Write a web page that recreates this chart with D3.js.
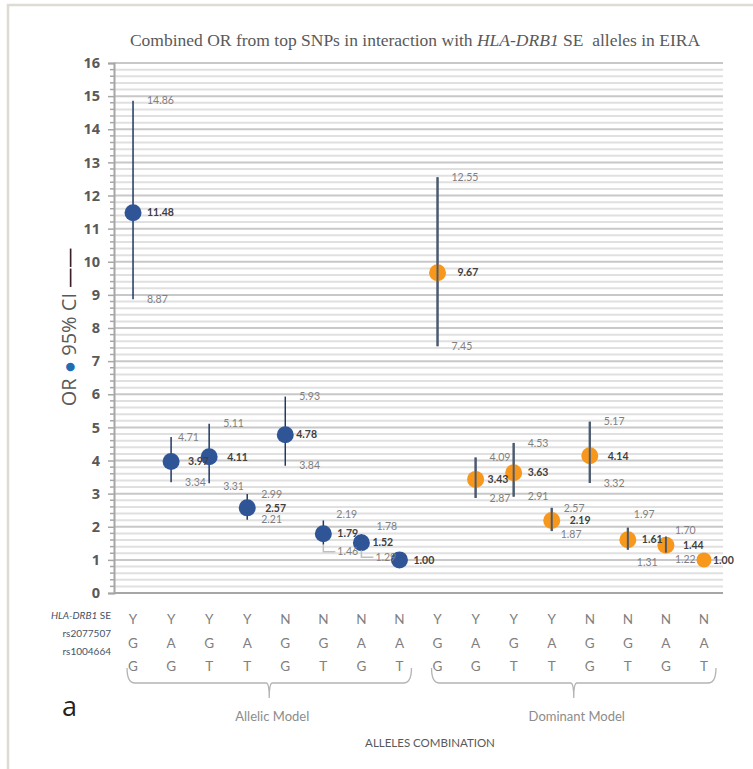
<!DOCTYPE html>
<html>
<head>
<meta charset="utf-8">
<script src="https://cdn.jsdelivr.net/npm/d3@7"></script>
<style>
  body { margin: 0; background: #fff; }
  svg text { font-family: Lato, "Open Sans", sans-serif; }
</style>
</head>
<body>
<div id="chart"></div>
<script>
// allele combination rows (one entry per category)
const seAllele = ['Y','Y','Y','Y','N','N','N','N','Y','Y','Y','Y','N','N','N','N']
const rs2077507 = ['G','A','G','A','G','G','A','A','G','A','G','A','G','G','A','A']
const rs1004664 = ['G','G','T','T','G','T','G','T','G','G','T','T','G','T','G','T']

const allelicOR = [11.48, 3.97, 4.11, 2.57, 4.78, 1.79, 1.52, 1.00]
const allelicLow = [8.87, 3.34, 3.31, 2.21, 3.84, 1.46, 1.29, null]
const allelicHigh = [14.86, 4.71, 5.11, 2.99, 5.93, 2.19, 1.78, null]

const dominantOR = [9.67, 3.43, 3.63, 2.19, 4.14, 1.61, 1.44, 1.00]
const dominantLow = [7.45, 2.87, 2.91, 1.87, 3.32, 1.31, 1.22, null]
const dominantHigh = [12.55, 4.09, 4.53, 2.57, 5.17, 1.97, 1.70, null]

const models = ['Allelic Model', 'Dominant Model']
const yTicks = d3.range(0, 17)

const width = 753
const height = 769
const colors = { 'Allelic Model': '#2f5597', 'Dominant Model': '#f7981d' }
const barColors = { 'Allelic Model': '#1f3864', 'Dominant Model': '#4a5a70' }

// label placement tweaks (layout only): [index, which, dx, dy]
const labelShift = [
  [1, 'hi', -7, 0], [1, 'or', 3, 0],
  [2, 'or', 4, 0], [2, 'lo', 0, 3],
  [3, 'or', 4, 0],
  [4, 'or', -3, 0],
  [5, 'hi', -1, -6], [5, 'lo', 0, 7],
  [6, 'hi', 1, -8], [6, 'or', -3, 0], [6, 'lo', 0, 7],
  [8, 'or', 6, 0],
  [9, 'or', -2, 0],
  [11, 'hi', -2, 0], [11, 'or', 4, 0], [11, 'lo', -5, 3],
  [12, 'or', 4, 0],
  [13, 'hi', -8, -13], [13, 'lo', -5, 13],
  [14, 'hi', -5, -6], [14, 'or', 3, 0], [14, 'lo', -5, 7],
  [15, 'or', -5, 0]
]
const leaders = [5, 6]

const points = []
models.forEach((m, k) => {
  const or = k ? dominantOR : allelicOR
  const lo = k ? dominantLow : allelicLow
  const hi = k ? dominantHigh : allelicHigh
  or.forEach((v, j) => points.push({ i: k * 8 + j, model: m, or: v, lo: lo[j], hi: hi[j] }))
})

const svg = d3.select('#chart').append('svg').attr('width', width).attr('height', height)

// frame
svg.append('path').attr('d', `M8,${height} V5 H${width}`)
  .attr('fill', 'none').attr('stroke', '#dedbd3').attr('stroke-width', 2.5)

const x = d3.scaleBand().domain(d3.range(16)).range([114, 723])
const y = d3.scaleLinear().domain([0, 16]).range([593, 63])
const cx = i => x(i) + x.bandwidth() / 2

// grid
const minor = d3.range(0, 80).map(d => d / 5).filter(d => d % 1 !== 0)
svg.append('g').selectAll('line').data(minor).join('line')
  .attr('x1', 114).attr('x2', 723).attr('y1', d => y(d)).attr('y2', d => y(d))
  .attr('stroke', '#e0e0e0').attr('stroke-width', 2)
svg.append('g').selectAll('line').data(yTicks.slice(1)).join('line')
  .attr('x1', 114).attr('x2', 723).attr('y1', d => y(d)).attr('y2', d => y(d))
  .attr('stroke', '#c8c8c8').attr('stroke-width', 2)
svg.append('line').attr('x1', 114).attr('x2', 723).attr('y1', y(0)).attr('y2', y(0))
  .attr('stroke', '#a6a6a6').attr('stroke-width', 2)

// y axis
const yAxis = svg.append('g').attr('transform', 'translate(114,0)')
  .call(d3.axisLeft(y).tickValues(yTicks).tickSize(6).tickPadding(8).tickFormat(d3.format('d')))
yAxis.select('.domain').attr('stroke', '#a6a6a6').attr('stroke-width', 2)
yAxis.selectAll('.tick line').attr('stroke', '#a6a6a6').attr('stroke-width', 1.5)
yAxis.selectAll('text').attr('fill', '#595959').attr('font-size', 14.5)
  .style('font-weight', 700).style('font-family', '"Open Sans", sans-serif')
svg.append('g').selectAll('line').data(minor).join('line')
  .attr('x1', 110).attr('x2', 114).attr('y1', d => y(d)).attr('y2', d => y(d))
  .attr('stroke', '#a6a6a6').attr('stroke-width', 1.5)

// title
const title = svg.append('text').attr('x', 415).attr('y', 46).attr('text-anchor', 'middle')
  .attr('fill', '#595959').attr('font-size', 17.5).style('font-family', '"Liberation Serif", serif')
  .style('white-space', 'pre')
title.append('tspan').text('Combined OR from top SNPs in interaction with ')
title.append('tspan').attr('font-style', 'italic').text('HLA-DRB1')
title.append('tspan').text(' SE  alleles in EIRA')

// y title
const yt = svg.append('text').attr('transform', 'translate(76,327) rotate(-90)')
  .attr('text-anchor', 'middle').attr('fill', '#595959').attr('font-size', 20)
  .style('font-family', '"Open Sans", sans-serif')
yt.append('tspan').text('OR ')
yt.append('tspan').attr('fill', '#1f6eb5').text('●')
yt.append('tspan').text(' 95% CI ')
yt.append('tspan').attr('fill', '#111').text('——')

// error bars
const ci = points.filter(d => d.lo != null)
svg.append('g').selectAll('line').data(ci).join('line')
  .attr('x1', d => cx(d.i)).attr('x2', d => cx(d.i))
  .attr('y1', d => y(d.lo)).attr('y2', d => y(d.hi))
  .attr('stroke', d => barColors[d.model]).attr('stroke-width', d => d.model === models[0] ? 1.5 : 2)

// points
svg.append('g').selectAll('circle').data(points).join('circle')
  .attr('cx', d => cx(d.i)).attr('cy', d => y(d.or))
  .attr('r', d => d.i === 15 ? 7.5 : 8.5)
  .attr('fill', d => colors[d.model])

// error bars drawn over orange points
svg.append('g').selectAll('line').data(ci.filter(d => d.model === models[1])).join('line')
  .attr('x1', d => cx(d.i)).attr('x2', d => cx(d.i))
  .attr('y1', d => y(d.lo)).attr('y2', d => y(d.hi))
  .attr('stroke', '#4a5a70').attr('stroke-width', 2)

// labels
const shift = (i, w) => {
  const s = labelShift.find(o => o[0] === i && o[1] === w)
  return s ? [s[2], s[3]] : [0, 0]
}
const labels = []
points.forEach(d => {
  labels.push({ i: d.i, w: 'or', v: d.or })
  if (d.lo != null) {
    labels.push({ i: d.i, w: 'hi', v: d.hi })
    labels.push({ i: d.i, w: 'lo', v: d.lo })
  }
})
labels.forEach(l => {
  const [dx, dy] = shift(l.i, l.w)
  l.x = cx(l.i) + 14 + dx
  l.y = y(l.v) + dy
})
svg.append('g').selectAll('text').data(labels).join('text')
  .attr('x', d => d.x).attr('y', d => d.y).attr('dy', '0.35em')
  .attr('font-size', d => d.w === 'or' ? 10.5 : 10.5)
  .attr('font-weight', d => d.w === 'or' ? 700 : 400)
  .attr('fill', d => d.w === 'or' ? '#404040' : '#7f7f7f')
  .text(d => d3.format('.2f')(d.v))

// leader lines for displaced lower labels
svg.append('g').selectAll('path').data(labels.filter(l => l.w === 'lo' && leaders.includes(l.i))).join('path')
  .attr('d', d => `M${cx(d.i)},${y(d.v)} V${d.y} H${d.x - 2}`)
  .attr('fill', 'none').attr('stroke', '#bfbfbf').attr('stroke-width', 1.5)

// allele rows
const rows = [
  { name: 'rs', label: 'SE', vals: seAllele, ly: 615, vy: 619 },
  { name: 'rs2077507', vals: rs2077507, ly: 633, vy: 643 },
  { name: 'rs1004664', vals: rs1004664, ly: 651, vy: 666 }
]
rows.forEach((r, k) => {
  const t = svg.append('text').attr('x', 111).attr('y', r.ly).attr('dy', '0.35em')
    .attr('text-anchor', 'end').attr('font-size', 10).attr('fill', '#44546a')
  if (k === 0) {
    t.append('tspan').attr('font-style', 'italic').text('HLA-DRB1')
    t.append('tspan').text(' SE')
  } else t.text(r.name)
  svg.append('g').selectAll('text').data(r.vals).join('text')
    .attr('x', (d, i) => cx(i)).attr('y', r.vy).attr('dy', '0.35em')
    .attr('text-anchor', 'middle').attr('font-size', 13.5).attr('fill', '#7f7f7f')
    .text(d => d)
})

// braces
const brace = (x0, x1) => {
  const xm = (x0 + x1) / 2
  return `M${x0},668 Q${x0},683 ${x0 + 8},683 H${xm - 3} Q${xm},683 ${xm},698 Q${xm},683 ${xm + 3},683 H${x1 - 8} Q${x1},683 ${x1},668`
}
const braceSpan = [[0, 7], [8, 15]]
svg.append('g').selectAll('path').data(braceSpan).join('path')
  .attr('d', d => brace(cx(d[0]) - 6, cx(d[1]) + 12))
  .attr('fill', 'none').attr('stroke', '#b4b4b4').attr('stroke-width', 1.3)
svg.append('g').selectAll('text').data(models).join('text')
  .attr('x', (d, k) => (cx(braceSpan[k][0]) + cx(braceSpan[k][1])) / 2 + 6)
  .attr('y', 716).attr('dy', '0.35em').attr('text-anchor', 'middle')
  .attr('font-size', 13).attr('fill', '#8c8c8c')
  .text(d => d)

svg.append('text').attr('x', 430).attr('y', 743).attr('dy', '0.35em').attr('text-anchor', 'middle')
  .attr('font-size', 11.5).attr('fill', '#595959').text('ALLELES COMBINATION')

svg.append('text').attr('x', 62).attr('y', 716).attr('font-size', 27).attr('fill', '#222')
  .style('font-family', '"Open Sans", sans-serif').text('a')
</script>
</body>
</html>
